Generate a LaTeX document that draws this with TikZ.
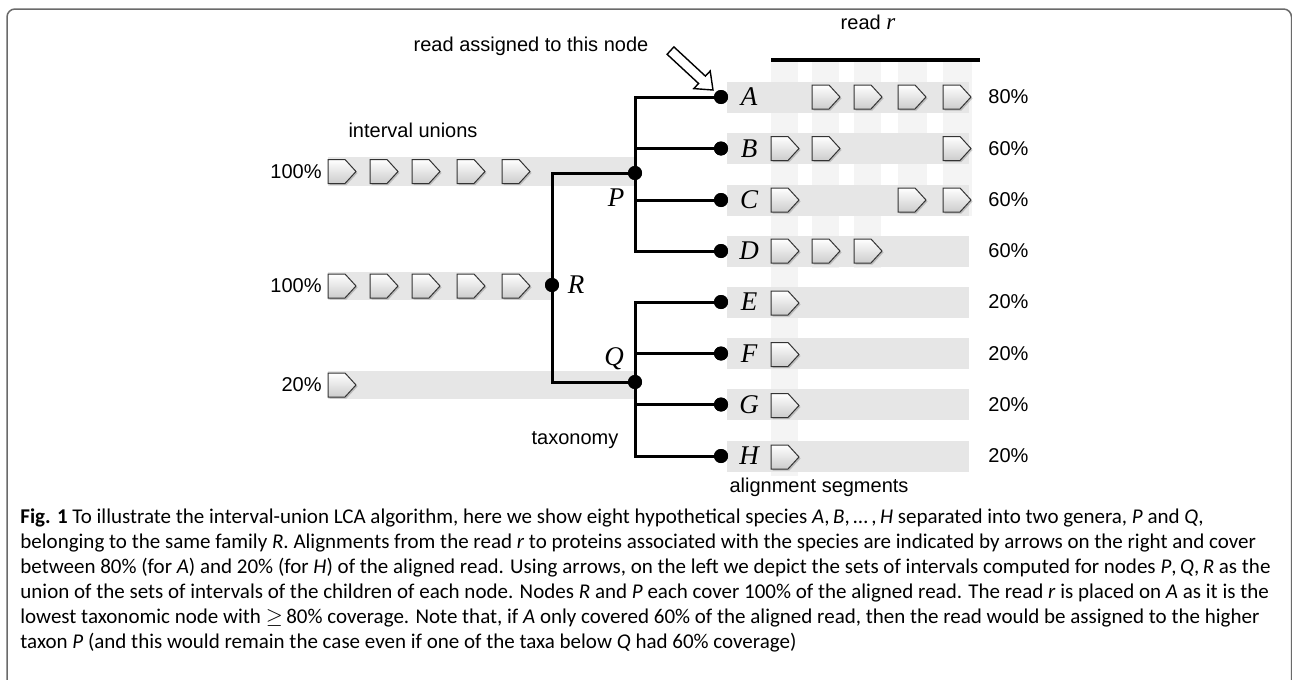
\documentclass[tikz,border=0pt]{standalone}
\usepackage{fontspec}
\setmainfont{Liberation Sans}
\newfontfamily\tms{Liberation Serif}
\newfontfamily\capfont{Carlito}
\definecolor{barc}{HTML}{E6E6E6}
\definecolor{stripec}{HTML}{F4F4F4}
\definecolor{framec}{HTML}{6A6A6A}
\tikzset{
  bar/.style={fill=barc, draw=none},
  stripe/.style={fill=stripec, draw=none},
  tree/.style={line width=1.5pt, black},
  dot/.style={circle, fill=black, draw=none, inner sep=0pt, minimum size=7pt},
  leaf/.style={font=\tms\itshape\fontsize{13.5}{14}\selectfont, inner sep=0pt},
  lbl/.style={font=\fontsize{10}{12}\selectfont, inner sep=0pt},
  seg/.pic={
     \fill[black, opacity=0.18] (1.5,-10.5) -- (18.5,-10.5) -- (29.5,1.5) -- (18.5,13.5) -- (1.5,13.5) -- cycle;
     \draw[line width=0.5pt, draw=black!80, top color=white, bottom color=black!20]
     (0,-12) -- (17,-12) -- (28,0) -- (17,12) -- (0,12) -- cycle;},
  hollow/.style={draw=black, fill=white, line width=0.7pt, line join=miter}
}
\begin{document}
\begin{tikzpicture}[x=0.5pt,y=-0.5pt]
\useasboundingbox (0,0) rectangle (1292,680);
% frame
\draw[framec, line width=0.75pt, rounded corners=4pt] (7,700) -- (7,9) -- (1291.5,9) -- (1291.5,700);

% vertical stripes of the read columns
\fill[stripe] (771,62) rectangle (798,476);
\fill[stripe] (812,62) rectangle (839,268);
\fill[stripe] (854,62) rectangle (881,268);
\fill[stripe] (898,62) rectangle (927,216);
\fill[stripe] (943,62) rectangle (972,216);

% read line
\draw[line width=2pt] (771,60) -- (980,60);
\node[lbl] (readr) at (868,22) {read \tms\itshape\fontsize{11.5}{12}\selectfont r};

% right rows
\foreach \n/\y/\p in {A/97/80,B/148.5/60,C/200/60,D/251/60,E/302/20,F/353.5/20,G/404.5/20,H/456/20}{
  \fill[bar] (727,\y-15.5) rectangle (969,\y+15.5);
  \node[leaf] (l\n) at (749,\y) {\n};
  \node[lbl, anchor=west] (p\n) at (988,\y) {\p\%};
}

% alignment segments
\foreach \x in {812,854,898,943} \pic at (\x,97) {seg};
\foreach \x in {771,812,943} \pic at (\x,148.5) {seg};
\foreach \x in {771,898,943} \pic at (\x,200) {seg};
\foreach \x in {771,812,854} \pic at (\x,251) {seg};
\foreach \y in {302,353.5,404.5,456} \pic at (771,\y+1) {seg};

% left interval unions
\fill[bar] (328,157) rectangle (635,186);
\fill[bar] (328,272) rectangle (552,300);
\fill[bar] (328,371) rectangle (635,399);
\foreach \x in {328,370,412,457,502} {\pic at (\x,171.5) {seg}; \pic at (\x,286) {seg};}
\pic at (328,385) {seg};
\node[lbl, anchor=east] (pP) at (322,171.5) {100\%};
\node[lbl, anchor=east] (pR) at (322,286) {100\%};
\node[lbl, anchor=east] (pQ) at (322,385) {20\%};

% tree nodes
\node[dot] (P) at (635,173) {};
\node[dot] (R) at (552,285) {};
\node[dot] (Q) at (635,382) {};
\foreach \n/\y in {A/97,B/148.5,C/200,D/251,E/302,F/353.5,G/404.5,H/456}
  \node[dot] (\n) at (721,\y) {};
\foreach \n in {A,B,C,D} \draw[tree] (P.center) |- (\n.center);
\foreach \n in {E,F,G,H} \draw[tree] (Q.center) |- (\n.center);
\draw[tree] (R.center) |- (P.center);
\draw[tree] (R.center) |- (Q.center);
\foreach \n in {A,B,C,D,E,F,G,H,P,R,Q}
  \fill (\n) circle (3.5pt);
\node[leaf] (lP) at (616,198) {P};
\node[leaf] (lR) at (576,285) {R};
\node[leaf] (lQ) at (614,359) {Q};

% labels
\node[lbl] (iu) at (413,130) {interval unions};
\node[lbl] (tax) at (575,440) {taxonomy};
\node[lbl] (als) at (819,487) {alignment segments};
\node[lbl] (ra) at (531,46) {read assigned to this node};

% hollow arrow pointing at A
\coordinate (tipA) at (713,90);
\draw[hollow] (667.1,54.3) -- (698.6,83.5) -- (693.8,88.6) -- (tipA) -- (710.2,71.0) -- (705.4,76.1) -- (673.9,46.9) -- cycle;

% caption
\node[anchor=north west, inner sep=0pt, align=left,
      font=\capfont\fontsize{10.5}{12.5}\selectfont] (cap) at (20,508) {%
\textbf{Fig. 1} To illustrate the interval-union LCA algorithm, here we show eight hypothetical species \textit{A},\,\textit{B},\,\dots\,,\,\textit{H} separated into two genera, \textit{P} and \textit{Q},\\
belonging to the same family \textit{R}. Alignments from the read \textit{r} to proteins associated with the species are indicated by arrows on the right and cover\\
between 80\% (for \textit{A}) and 20\% (for \textit{H}) of the aligned read. Using arrows, on the left we depict the sets of intervals computed for nodes \textit{P},\,\textit{Q},\,\textit{R} as the\\
union of the sets of intervals of the children of each node. Nodes \textit{R} and \textit{P} each cover 100\% of the aligned read. The read \textit{r} is placed on \textit{A} as it is the\\
lowest taxonomic node with $\geq$\,80\% coverage. Note that, if \textit{A} only covered 60\% of the aligned read, then the read would be assigned to the higher\\
taxon \textit{P} (and this would remain the case even if one of the taxa below \textit{Q} had 60\% coverage)};
\end{tikzpicture}
\end{document}
